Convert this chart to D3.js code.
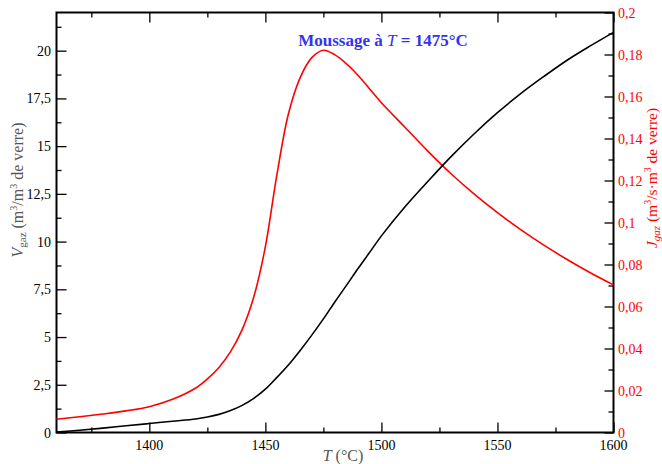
<!DOCTYPE html>
<html>
<head>
<meta charset="utf-8">
<script src="https://cdn.jsdelivr.net/npm/d3@7"></script>
<style>
  body { margin: 0; background: #fff; }
  text { font-family: "Liberation Serif", "DejaVu Serif", serif; }
</style>
</head>
<body>
<div id="vizcontainer"></div>
<script>
// temperatures (°C)
const temps = [1360, 1370, 1380, 1390, 1400, 1410, 1420, 1425, 1430, 1435, 1440, 1445, 1450, 1455, 1460, 1465,
  1470, 1475, 1480, 1485, 1490, 1495, 1500, 1510, 1520, 1530, 1540, 1550, 1560, 1570, 1580, 1590, 1600];
// V_gaz (m3/m3 de verre) - black, left axis
const vgaz = [0.02, 0.12, 0.23, 0.35, 0.47, 0.59, 0.71, 0.81, 0.95, 1.15, 1.42, 1.79, 2.27, 2.89, 3.55, 4.3,
  5.1, 5.95, 6.85, 7.72, 8.6, 9.45, 10.3, 11.8, 13.15, 14.45, 15.65, 16.75, 17.75, 18.65, 19.5, 20.25, 20.96];
// J_gaz (m3/s.m3 de verre) - red, right axis
const jgaz = [0.0063, 0.0075, 0.0088, 0.0103, 0.0123, 0.0158, 0.0212, 0.0255, 0.031, 0.0385, 0.049, 0.0645, 0.0885, 0.123, 0.152, 0.169,
  0.1785, 0.182, 0.1798, 0.1755, 0.170, 0.1635, 0.157, 0.1455, 0.134, 0.1232, 0.1135, 0.1047, 0.0966, 0.0892, 0.0824, 0.0761, 0.0703];

const xTicks = [1400, 1450, 1500, 1550, 1600];
const leftTicks = [0, 2.5, 5, 7.5, 10, 12.5, 15, 17.5, 20];
const rightTicks = [0, 0.02, 0.04, 0.06, 0.08, 0.1, 0.12, 0.14, 0.16, 0.18, 0.2];

const width = 662, height = 464;
const mLeft = 56.5, mRight = 613.5, mTop = 12.5, mBottom = 432.5;

const fr = v => String(v).replace('.', ',');

let viz = d3.select('#vizcontainer')
  .append('svg')
  .attr('width', width)
  .attr('height', height);

const x = d3.scaleLinear().domain([1360, 1600]).range([mLeft, mRight]);
const yL = d3.scaleLinear().domain([0, 22]).range([mBottom, mTop]);
const yR = d3.scaleLinear().domain([0, 0.2]).range([mBottom, mTop]);

const minor = (a, b, s) => d3.range(a, b + s / 2, s);

// bottom axis, ticks inward
viz.append('g')
  .attr('transform', `translate(0,${mBottom})`)
  .call(d3.axisTop(x).tickValues(minor(1375, 1600, 50)).tickSize(5).tickFormat(''))
  .call(g => g.select('.domain').remove());
viz.append('g')
  .attr('transform', `translate(0,${mBottom})`)
  .call(d3.axisTop(x).tickValues(xTicks).tickSize(10).tickFormat(''))
  .call(g => g.select('.domain').remove());
viz.append('g')
  .selectAll('text')
  .data(xTicks)
  .join('text')
  .attr('x', d => x(d))
  .attr('y', 450)
  .attr('text-anchor', 'middle')
  .attr('font-size', 14)
  .text(d => d);

// top axis mirror
viz.append('g')
  .attr('transform', `translate(0,${mTop})`)
  .call(d3.axisBottom(x).tickValues(minor(1375, 1600, 50)).tickSize(5).tickFormat(''))
  .call(g => g.select('.domain').remove());
viz.append('g')
  .attr('transform', `translate(0,${mTop})`)
  .call(d3.axisBottom(x).tickValues(xTicks).tickSize(10).tickFormat(''))
  .call(g => g.select('.domain').remove());

// left axis
viz.append('g')
  .attr('transform', `translate(${mLeft},0)`)
  .call(d3.axisRight(yL).tickValues(minor(1.25, 22, 2.5)).tickSize(5).tickFormat(''))
  .call(g => g.select('.domain').remove());
viz.append('g')
  .attr('transform', `translate(${mLeft},0)`)
  .call(d3.axisRight(yL).tickValues(leftTicks).tickSize(10).tickFormat(''))
  .call(g => g.select('.domain').remove());
viz.append('g')
  .selectAll('text')
  .data(leftTicks)
  .join('text')
  .attr('x', 51)
  .attr('y', d => yL(d) + 5)
  .attr('text-anchor', 'end')
  .attr('font-size', 14)
  .text(d => fr(d));

// right axis
viz.append('g')
  .attr('transform', `translate(${mRight},0)`)
  .call(d3.axisLeft(yR).tickValues(minor(0.01, 0.2, 0.02)).tickSize(5).tickFormat(''))
  .call(g => g.select('.domain').remove());
viz.append('g')
  .attr('transform', `translate(${mRight},0)`)
  .call(d3.axisLeft(yR).tickValues(rightTicks).tickSize(9).tickFormat(''))
  .call(g => g.select('.domain').remove());
viz.append('g')
  .selectAll('text')
  .data(rightTicks)
  .join('text')
  .attr('x', 618)
  .attr('y', d => yR(d) + 5)
  .attr('fill', '#ff0000')
  .attr('font-size', 14)
  .text(d => fr(+d.toFixed(2)));

viz.selectAll('.tick line').attr('stroke', 'black').attr('stroke-width', 1.3);

// frame
viz.append('rect')
  .attr('x', mLeft).attr('y', mTop)
  .attr('width', mRight - mLeft).attr('height', mBottom - mTop)
  .attr('fill', 'none')
  .attr('stroke', 'black')
  .attr('stroke-width', 2);

const pts = temps.map((t, i) => ({ t: t, v: vgaz[i], j: jgaz[i] }));

viz.append('path')
  .datum(pts)
  .attr('fill', 'none')
  .attr('stroke', 'red')
  .attr('stroke-width', 1.6)
  .attr('d', d3.line().curve(d3.curveCatmullRom.alpha(0.5)).x(d => x(d.t)).y(d => yR(d.j)));

viz.append('path')
  .datum(pts)
  .attr('fill', 'none')
  .attr('stroke', 'black')
  .attr('stroke-width', 1.6)
  .attr('d', d3.line().curve(d3.curveCatmullRom.alpha(0.5)).x(d => x(d.t)).y(d => yL(d.v)));

// title
const title = viz.append('text')
  .attr('x', 383).attr('y', 46)
  .attr('text-anchor', 'middle')
  .attr('fill', '#3333ee')
  .attr('font-size', 17)
  .attr('font-weight', 'bold');
title.append('tspan').text('Moussage à ');
title.append('tspan').attr('font-style', 'italic').attr('font-weight', 'normal').text('T');
title.append('tspan').text(' = 1475°C');

// x label
const xl = viz.append('text')
  .attr('x', 343).attr('y', 461)
  .attr('text-anchor', 'middle')
  .attr('fill', '#555')
  .attr('font-size', 16);
xl.append('tspan').attr('font-style', 'italic').text('T');
xl.append('tspan').text(' (°C)');

// left label
const yl = viz.append('text')
  .attr('transform', 'translate(23,190) rotate(-90)')
  .attr('text-anchor', 'middle')
  .attr('fill', '#555')
  .attr('font-size', 16);
yl.append('tspan').attr('font-style', 'italic').text('V');
yl.append('tspan').attr('font-size', 11).attr('dy', 3).text('gaz');
yl.append('tspan').attr('dy', -3).text(' (m');
yl.append('tspan').attr('font-size', 10).attr('dy', -6).text('3');
yl.append('tspan').attr('dy', 6).text('/m');
yl.append('tspan').attr('font-size', 10).attr('dy', -6).text('3');
yl.append('tspan').attr('dy', 6).text(' de verre)');

// right label
const yr = viz.append('text')
  .attr('transform', 'translate(657,178) rotate(-90)')
  .attr('text-anchor', 'middle')
  .attr('fill', '#ff0000')
  .attr('font-size', 15.5);
yr.append('tspan').attr('font-style', 'italic').text('J');
yr.append('tspan').attr('font-size', 11).attr('font-style', 'italic').attr('dy', 3).text('gaz');
yr.append('tspan').attr('dy', -3).text(' (m');
yr.append('tspan').attr('font-size', 10).attr('dy', -6).text('3');
yr.append('tspan').attr('dy', 6).text('/s·m');
yr.append('tspan').attr('font-size', 10).attr('dy', -6).text('3');
yr.append('tspan').attr('dy', 6).text(' de verre)');
</script>
</body>
</html>
